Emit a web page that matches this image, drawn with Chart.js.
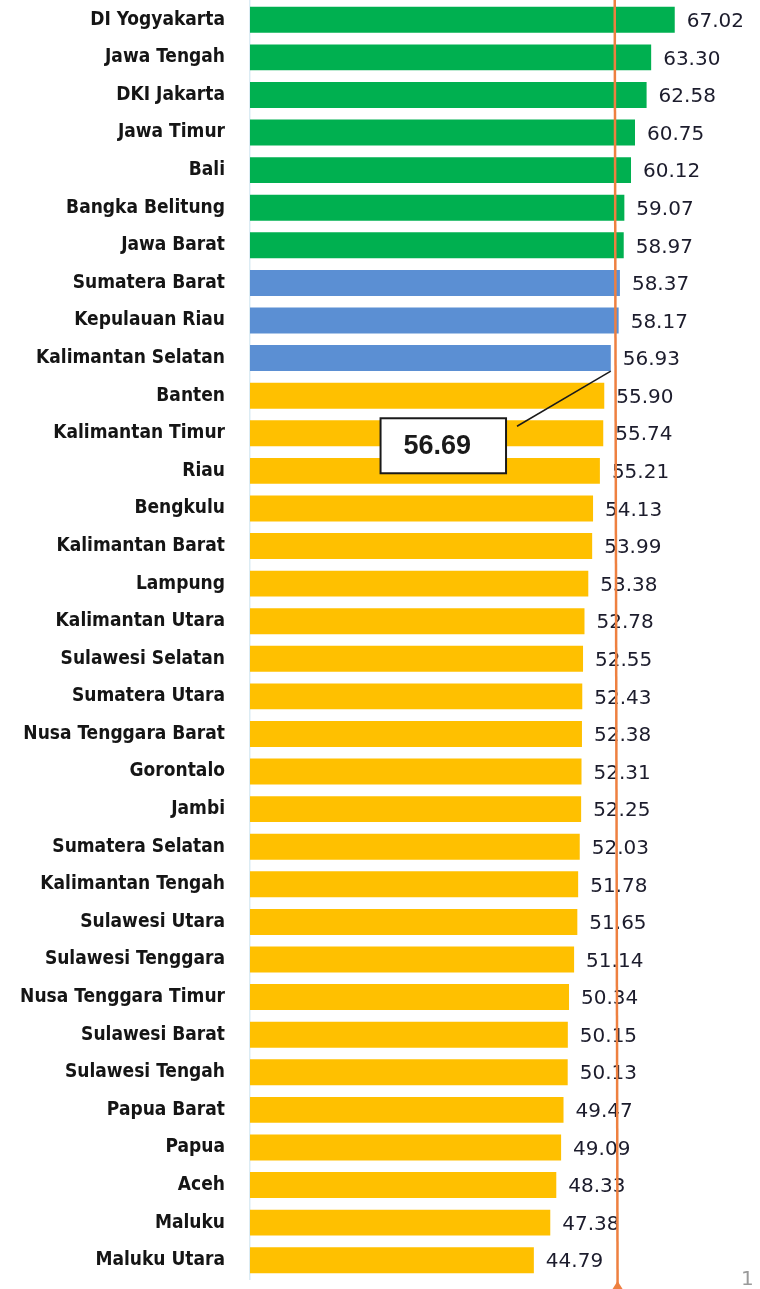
<!DOCTYPE html>
<html>
<head>
<meta charset="utf-8">
<script src="https://cdn.jsdelivr.net/npm/chart.js@4.4.0/dist/chart.umd.min.js"></script>
<style>
  html, body { margin: 0; padding: 0; background: #fff; }
  #wrap { position: relative; width: 760px; height: 1289px; overflow: hidden; }
  #page-no { position: absolute; left: 741px; top: 1266px; font: 20px 'DejaVu Sans', sans-serif; color: #9a9a9a; }
</style>
</head>
<body>
<div id="wrap">
  <canvas id="chart" width="760" height="1289"></canvas>
  <div id="page-no">1</div>
</div>
<script>
const provinces = [
  'DI Yogyakarta', 'Jawa Tengah', 'DKI Jakarta', 'Jawa Timur', 'Bali', 'Bangka Belitung', 'Jawa Barat',
  'Sumatera Barat', 'Kepulauan Riau', 'Kalimantan Selatan',
  'Banten', 'Kalimantan Timur', 'Riau', 'Bengkulu', 'Kalimantan Barat', 'Lampung', 'Kalimantan Utara',
  'Sulawesi Selatan', 'Sumatera Utara', 'Nusa Tenggara Barat', 'Gorontalo', 'Jambi', 'Sumatera Selatan',
  'Kalimantan Tengah', 'Sulawesi Utara', 'Sulawesi Tenggara', 'Nusa Tenggara Timur', 'Sulawesi Barat',
  'Sulawesi Tengah', 'Papua Barat', 'Papua', 'Aceh', 'Maluku', 'Maluku Utara'
];
const values = [
  67.02, 63.30, 62.58, 60.75, 60.12, 59.07, 58.97,
  58.37, 58.17, 56.93,
  55.90, 55.74, 55.21, 54.13, 53.99, 53.38, 52.78,
  52.55, 52.43, 52.38, 52.31, 52.25, 52.03,
  51.78, 51.65, 51.14, 50.34, 50.15,
  50.13, 49.47, 49.09, 48.33, 47.38, 44.79
];
// group of each province (top / middle / bottom)
const tiers = [
  'top', 'top', 'top', 'top', 'top', 'top', 'top',
  'mid', 'mid', 'mid',
  'low', 'low', 'low', 'low', 'low', 'low', 'low', 'low', 'low', 'low', 'low', 'low', 'low',
  'low', 'low', 'low', 'low', 'low', 'low', 'low', 'low', 'low', 'low', 'low'
];
const average = 56.69;
const calloutIndex = 9;          // the bar the callout points to
const avgLineTop = 57.55;        // orange line as drawn in the source (slightly slanted)
const avgLineBottom = 58.0;

const tierColors = { top: '#00b050', mid: '#5b8fd3', low: '#ffc000' };

const overlay = {
  id: 'overlay',
  afterDatasetsDraw(chart) {
    const { ctx, scales: { x, y } } = chart;
    const meta = chart.getDatasetMeta(0);

    // value labels
    ctx.save();
    ctx.font = '20px "DejaVu Sans", sans-serif';
    ctx.fillStyle = '#1c1c2c';
    ctx.textAlign = 'left';
    ctx.textBaseline = 'middle';
    meta.data.forEach((bar, i) => {
      ctx.fillText(values[i].toFixed(2), bar.x + 12, bar.y + 2);
    });
    ctx.restore();

    // callout box with leader line
    const target = meta.data[calloutIndex];
    const bx0 = x.getPixelForValue(20.6), bx1 = x.getPixelForValue(40.4);
    const by0 = y.getPixelForValue(11) - 15, by1 = by0 + 55;
    ctx.save();
    ctx.strokeStyle = '#1a1a1a';
    ctx.lineWidth = 1.5;
    ctx.beginPath();
    ctx.moveTo(bx1 + 11, by0 + 8);
    ctx.lineTo(target.x, target.y + target.height / 2);
    ctx.stroke();
    ctx.fillStyle = '#fff';
    ctx.fillRect(bx0, by0, bx1 - bx0, by1 - by0);
    ctx.lineWidth = 2;
    ctx.strokeRect(bx0, by0, bx1 - bx0, by1 - by0);
    ctx.fillStyle = '#1a1a1a';
    ctx.font = 'bold 27px "Liberation Sans", sans-serif';
    ctx.textAlign = 'center';
    ctx.textBaseline = 'middle';
    ctx.fillText(average.toFixed(2), (bx0 + bx1) / 2 - 6, (by0 + by1) / 2 + 1);
    ctx.restore();

    // orange reference line
    const xt = x.getPixelForValue(avgLineTop), xb = x.getPixelForValue(avgLineBottom);
    const h = chart.height;
    ctx.save();
    ctx.strokeStyle = '#ee8040';
    ctx.lineWidth = 2.5;
    ctx.beginPath();
    ctx.moveTo(xt, 0);
    ctx.lineTo(xb, h - 5);
    ctx.stroke();
    ctx.fillStyle = '#ee8040';
    ctx.beginPath();
    ctx.moveTo(xb - 5, h);
    ctx.lineTo(xb, h - 8);
    ctx.lineTo(xb + 5, h);
    ctx.closePath();
    ctx.fill();
    ctx.restore();
  }
};

new Chart(document.getElementById('chart'), {
  type: 'bar',
  data: {
    labels: provinces,
    datasets: [{
      data: values,
      backgroundColor: tiers.map(t => tierColors[t]),
      borderWidth: 0,
      categoryPercentage: 1,
      barPercentage: 0.69,
    }],
  },
  options: {
    indexAxis: 'y',
    responsive: false,
    animation: false,
    events: [],
    layout: { padding: { top: 1, bottom: 10, left: 0, right: 3 } },
    plugins: { legend: { display: false }, tooltip: { enabled: false } },
    scales: {
      x: { display: false, min: 0, max: 80 },
      y: {
        afterFit(scale) {
          scale.width = 250;
          scale.paddingTop = 0;
          scale.paddingBottom = 0;
        },
        grid: { display: false, drawTicks: false },
        border: { display: true, color: '#dcecf4', width: 1.5 },
        ticks: {
          padding: 25,
          autoSkip: false,
          color: '#151515',
          font: { family: '"DejaVu Sans Condensed", "DejaVu Sans", sans-serif', size: 19, weight: 'bold' },
        },
      },
    },
  },
  plugins: [overlay],
});
</script>
</body>
</html>
